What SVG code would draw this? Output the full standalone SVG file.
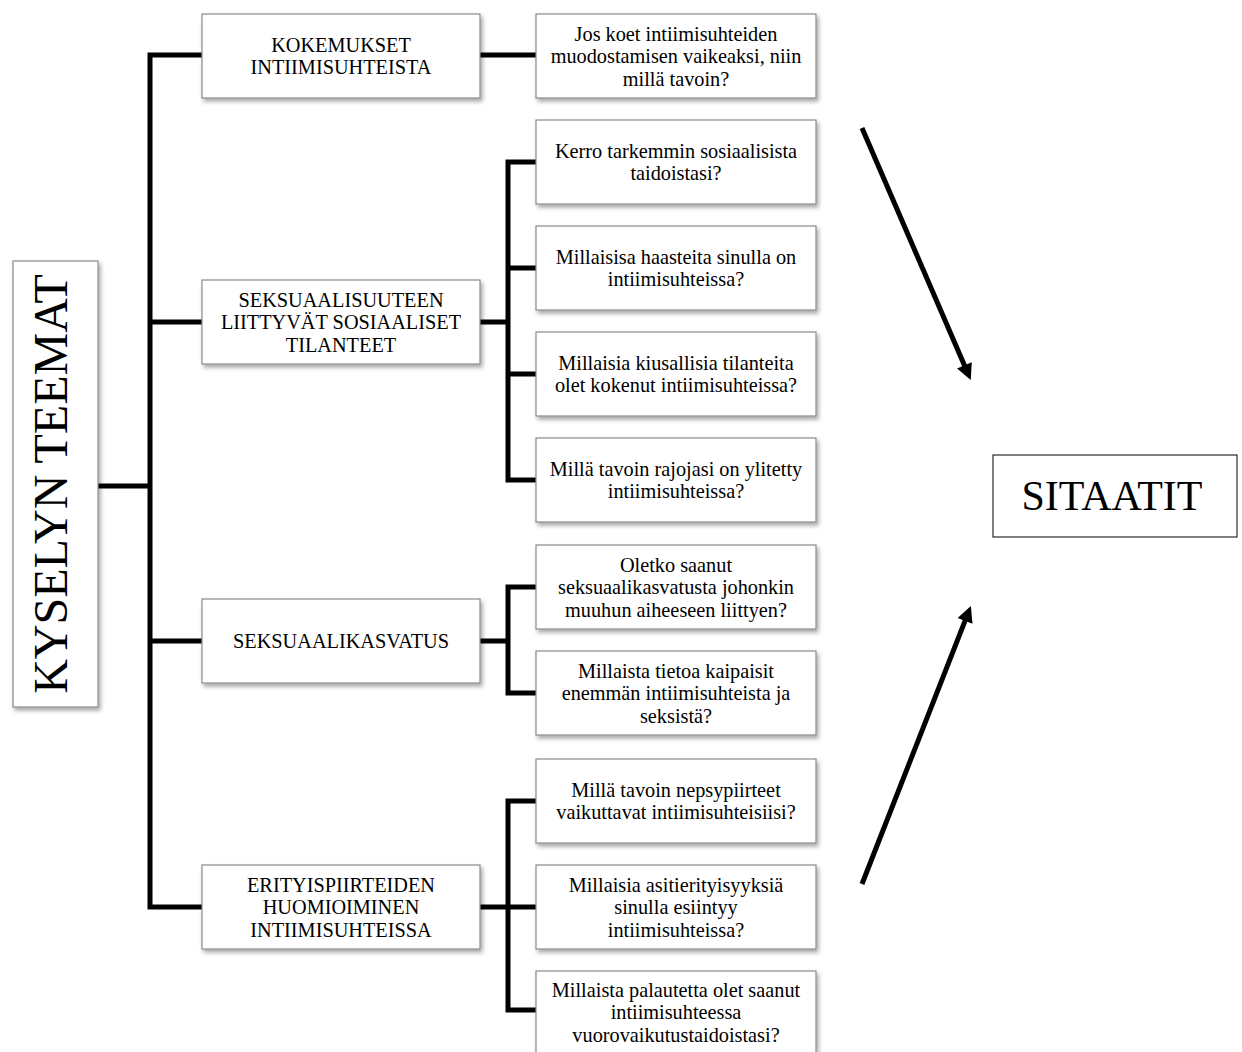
<svg xmlns="http://www.w3.org/2000/svg" width="1242" height="1052" viewBox="0 0 1242 1052">
<defs>
<filter id="sh" x="-10%" y="-10%" width="125%" height="130%">
<feDropShadow dx="2" dy="3" stdDeviation="2" flood-color="#000" flood-opacity="0.35"/>
</filter>
<marker id="ah" viewBox="0 0 10 10" refX="2" refY="5" markerWidth="20" markerHeight="16" markerUnits="userSpaceOnUse" orient="auto">
<path d="M0,0 L10,5 L0,10 z" fill="#000"/>
</marker>
</defs>
<style>
.box{fill:#fff;stroke:#8a8a8a;stroke-width:1.2;filter:url(#sh)}
.t{font-family:"Liberation Serif","Times New Roman",serif;font-size:20.3px;fill:#000;text-anchor:middle}
.c{fill:none;stroke:#000;stroke-width:5;stroke-linejoin:miter;stroke-linecap:square}
.a{fill:none;stroke:#000;stroke-width:5}
</style>
<rect width="1242" height="1052" fill="#fff"/>

<g id="connectors">
<path class="c" d="M98,486 H150 M150,55 V907 M150,55 H202 M150,322 H202 M150,641 H202 M150,907 H202"/>
<path class="c" d="M480,55 H536"/>
<path class="c" d="M480,322 H508 M536,162 H508 V480 H536 M508,268 H536 M508,374 H536"/>
<path class="c" d="M480,641 H508 M536,587 H508 V693 H536"/>
<path class="c" d="M480,907 H508 M536,801 H508 V1010 H536 M508,907 H536"/>
<line class="a" x1="862" y1="128" x2="965.7" y2="368.3" marker-end="url(#ah)"/>
<line class="a" x1="862" y1="884" x2="966.2" y2="617.9" marker-end="url(#ah)"/>
</g>

<g id="root">
<rect class="box" x="13" y="261" width="85" height="446"/>
<text transform="translate(67,484) rotate(-90)" style="font-family:'Liberation Serif','Times New Roman',serif;font-size:48px;text-anchor:middle">KYSELYN TEEMAT</text>
</g>

<g id="n-kokemukset">
<rect class="box" x="202" y="14" width="278" height="84"/>
<text class="t" x="341" y="51.75"><tspan x="341">KOKEMUKSET</tspan><tspan x="341" dy="22.5">INTIIMISUHTEISTA</tspan></text>
</g>
<g id="n-sosiaaliset">
<rect class="box" x="202" y="280" width="278" height="84"/>
<text class="t" x="341" y="306.5"><tspan x="341">SEKSUAALISUUTEEN</tspan><tspan x="341" dy="22.5">LIITTYVÄT SOSIAALISET</tspan><tspan x="341" dy="22.5">TILANTEET</tspan></text>
</g>
<g id="n-seksuaalikasvatus">
<rect class="box" x="202" y="599" width="278" height="84"/>
<text class="t" x="341" y="648">SEKSUAALIKASVATUS</text>
</g>
<g id="n-erityispiirteet">
<rect class="box" x="202" y="865" width="278" height="84"/>
<text class="t" x="341" y="891.5"><tspan x="341">ERITYISPIIRTEIDEN</tspan><tspan x="341" dy="22.5">HUOMIOIMINEN</tspan><tspan x="341" dy="22.5">INTIIMISUHTEISSA</tspan></text>
</g>

<g id="q1">
<rect class="box" x="536" y="14" width="280" height="84"/>
<text class="t" x="676" y="40.5"><tspan x="676">Jos koet intiimisuhteiden</tspan><tspan x="676" dy="22.5">muodostamisen vaikeaksi, niin</tspan><tspan x="676" dy="22.5">millä tavoin?</tspan></text>
</g>
<g id="q2">
<rect class="box" x="536" y="120" width="280" height="84"/>
<text class="t" x="676" y="157.75"><tspan x="676">Kerro tarkemmin sosiaalisista</tspan><tspan x="676" dy="22.5">taidoistasi?</tspan></text>
</g>
<g id="q3">
<rect class="box" x="536" y="226" width="280" height="84"/>
<text class="t" x="676" y="263.75"><tspan x="676">Millaisisa haasteita sinulla on</tspan><tspan x="676" dy="22.5">intiimisuhteissa?</tspan></text>
</g>
<g id="q4">
<rect class="box" x="536" y="332" width="280" height="84"/>
<text class="t" x="676" y="369.75"><tspan x="676">Millaisia kiusallisia tilanteita</tspan><tspan x="676" dy="22.5">olet kokenut intiimisuhteissa?</tspan></text>
</g>
<g id="q5">
<rect class="box" x="536" y="438" width="280" height="84"/>
<text class="t" x="676" y="475.75"><tspan x="676">Millä tavoin rajojasi on ylitetty</tspan><tspan x="676" dy="22.5">intiimisuhteissa?</tspan></text>
</g>
<g id="q6">
<rect class="box" x="536" y="545" width="280" height="84"/>
<text class="t" x="676" y="571.5"><tspan x="676">Oletko saanut</tspan><tspan x="676" dy="22.5">seksuaalikasvatusta johonkin</tspan><tspan x="676" dy="22.5">muuhun aiheeseen liittyen?</tspan></text>
</g>
<g id="q7">
<rect class="box" x="536" y="651" width="280" height="84"/>
<text class="t" x="676" y="677.5"><tspan x="676">Millaista tietoa kaipaisit</tspan><tspan x="676" dy="22.5">enemmän intiimisuhteista ja</tspan><tspan x="676" dy="22.5">seksistä?</tspan></text>
</g>
<g id="q8">
<rect class="box" x="536" y="759" width="280" height="84"/>
<text class="t" x="676" y="796.75"><tspan x="676">Millä tavoin nepsypiirteet</tspan><tspan x="676" dy="22.5">vaikuttavat intiimisuhteisiisi?</tspan></text>
</g>
<g id="q9">
<rect class="box" x="536" y="865" width="280" height="84"/>
<text class="t" x="676" y="891.5"><tspan x="676">Millaisia asitierityisyyksiä</tspan><tspan x="676" dy="22.5">sinulla esiintyy</tspan><tspan x="676" dy="22.5">intiimisuhteissa?</tspan></text>
</g>
<g id="q10">
<rect class="box" x="536" y="971" width="280" height="86"/>
<text class="t" x="676" y="996.5"><tspan x="676">Millaista palautetta olet saanut</tspan><tspan x="676" dy="22.5">intiimisuhteessa</tspan><tspan x="676" dy="22.5">vuorovaikutustaidoistasi?</tspan></text>
</g>

<g id="sitaatit">
<rect x="993" y="455" width="244" height="82" fill="#fff" stroke="#000" stroke-width="1"/>
<text x="1112" y="510" style="font-family:'Liberation Serif','Times New Roman',serif;font-size:42px;text-anchor:middle">SITAATIT</text>
</g>
</svg>
